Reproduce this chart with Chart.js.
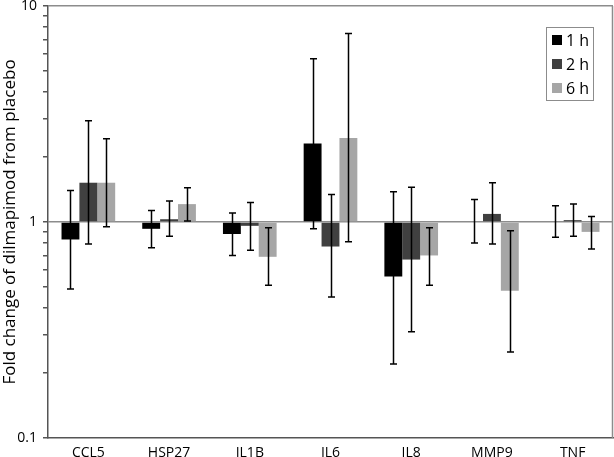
<!DOCTYPE html>
<html>
<head>
<meta charset="utf-8">
<script src="https://cdn.jsdelivr.net/npm/chart.js@4.4.1/dist/chart.umd.min.js"></script>
<style>
html, body { margin: 0; padding: 0; background: #fff; }
</style>
</head>
<body>
<canvas id="barCanvas" width="614" height="457"></canvas>
<script>
// data
const genes = ["CCL5", "HSP27", "IL1B", "IL6", "IL8", "MMP9", "TNF"];
const seriesNames = ["1 h", "2 h", "6 h"];
const seriesColors = ["#000000", "#404040", "#a6a6a6"];

const fold1h = [0.83, 0.93, 0.88, 2.31, 0.56, 1.00, 1.00];
const fold2h = [1.52, 1.03, 0.96, 0.77, 0.67, 1.09, 1.02];
const fold6h = [1.52, 1.21, 0.69, 2.45, 0.70, 0.48, 0.90];

const errHigh1h = [1.40, 1.13, 1.10, 5.70, 1.38, 1.27, 1.19];
const errLow1h  = [0.49, 0.76, 0.70, 0.93, 0.22, 0.80, 0.85];
const errHigh2h = [2.94, 1.25, 1.23, 1.34, 1.45, 1.52, 1.21];
const errLow2h  = [0.79, 0.86, 0.74, 0.45, 0.31, 0.79, 0.86];
const errHigh6h = [2.43, 1.44, 0.94, 7.45, 0.94, 0.91, 1.06];
const errLow6h  = [0.95, 1.01, 0.51, 0.81, 0.51, 0.25, 0.75];

const yTicks = [0.1, 0.2, 0.3, 0.4, 0.5, 0.6, 0.7, 0.8, 0.9, 1, 2, 3, 4, 5, 6, 7, 8, 9, 10];
const yTickLabels = [0.1, 1, 10];

const allFolds = [fold1h, fold2h, fold6h];
const allHigh = [errHigh1h, errHigh2h, errHigh6h];
const allLow = [errLow1h, errLow2h, errLow6h];

const fontFamily = "'Open Sans', Lato, sans-serif";

// error bars, frame and legend box
const errorBars = {
    id: "errorBars",
    afterDatasetsDraw(chart) {
        const ctx = chart.ctx;
        const y = chart.scales.y;
        ctx.save();
        ctx.strokeStyle = "#000";
        ctx.lineWidth = 1.5;
        chart.data.datasets.forEach((ds, i) => {
            const meta = chart.getDatasetMeta(i);
            meta.data.forEach((bar, j) => {
                const x = Math.round(bar.x) + 0.5;
                const top = y.getPixelForValue(allHigh[i][j]);
                const bot = y.getPixelForValue(allLow[i][j]);
                ctx.beginPath();
                ctx.moveTo(x, top);
                ctx.lineTo(x, bot);
                ctx.moveTo(x - 3.5, top);
                ctx.lineTo(x + 3.5, top);
                ctx.moveTo(x - 3.5, bot);
                ctx.lineTo(x + 3.5, bot);
                ctx.stroke();
            });
        });
        ctx.restore();
    },
    afterDraw(chart) {
        const ctx = chart.ctx;
        const area = chart.chartArea;
        ctx.save();
        // right frame line
        ctx.strokeStyle = "#8c8c8c";
        ctx.lineWidth = 1.5;
        ctx.beginPath();
        ctx.moveTo(area.right - 0.5, area.top);
        ctx.lineTo(area.right - 0.5, area.bottom);
        ctx.stroke();

        // boxed legend
        const bx = 546, by = 27, bw = 47, bh = 73;
        ctx.fillStyle = "#fff";
        ctx.fillRect(bx, by, bw, bh);
        ctx.strokeStyle = "#8c8c8c";
        ctx.lineWidth = 1;
        ctx.strokeRect(bx + 0.5, by + 0.5, bw, bh);
        ctx.font = "16px " + fontFamily;
        ctx.textBaseline = "middle";
        seriesNames.forEach((name, i) => {
            const cy = by + 13 + i * 24;
            ctx.fillStyle = seriesColors[i];
            ctx.fillRect(bx + 6, cy - 5, 10, 10);
            ctx.fillStyle = "#000";
            ctx.fillText(name, bx + 20, cy + 1);
        });
        ctx.restore();
    }
};

new Chart(document.getElementById("barCanvas"), {
    type: "bar",
    data: {
        labels: genes,
        datasets: seriesNames.map((name, i) => ({
            label: name,
            data: allFolds[i],
            base: 1,
            backgroundColor: seriesColors[i],
            borderWidth: 0,
            barPercentage: 1,
            categoryPercentage: 0.665
        }))
    },
    options: {
        responsive: false,
        animation: false,
        devicePixelRatio: 1,
        layout: { padding: { top: 6, right: 1, left: 0, bottom: 0 } },
        plugins: {
            legend: { display: false },
            tooltip: { enabled: false }
        },
        scales: {
            x: {
                grid: { display: false, drawTicks: false },
                border: { display: true, color: "#555", width: 1.5 },
                ticks: { color: "#000", font: { family: fontFamily, size: 14 }, padding: 7 },
                afterFit(scale) {
                    scale.height = 19;
                    scale.paddingLeft = 0;
                    scale.paddingRight = 0;
                }
            },
            y: {
                type: "logarithmic",
                min: 0.1,
                max: 10,
                afterBuildTicks(scale) {
                    scale.ticks = yTicks.map(v => ({ value: v, major: yTickLabels.includes(v) }));
                },
                afterFit(scale) {
                    scale.width = 48;
                    scale.paddingTop = 0;
                    scale.paddingBottom = 0;
                },
                border: { display: true, color: "#555", width: 1.5 },
                grid: {
                    drawOnChartArea: true,
                    color: (c) => (c.tick && (c.tick.value === 1 || c.tick.value === 10)) ? "#8c8c8c" : "rgba(0,0,0,0)",
                    lineWidth: 1.5,
                    tickColor: "#555",
                    tickLength: 5
                },
                ticks: {
                    autoSkip: false,
                    color: "#000",
                    padding: 6,
                    font: { family: fontFamily, size: 14 },
                    callback: (v) => yTickLabels.includes(v) ? String(v) : ""
                },
                title: {
                    display: true,
                    text: "Fold change of dilmapimod from placebo",
                    color: "#000",
                    font: { family: fontFamily, size: 17 },
                    padding: 0
                }
            }
        }
    },
    plugins: [errorBars]
});
</script>
</body>
</html>
